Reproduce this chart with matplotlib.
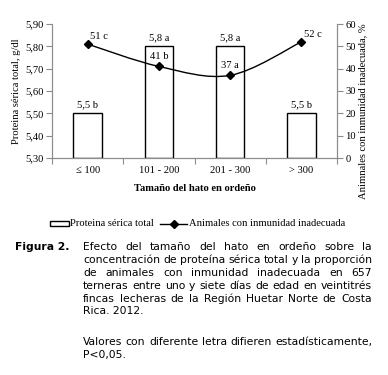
import matplotlib
matplotlib.use("Agg")
import matplotlib.pyplot as plt
from matplotlib.path import Path
from matplotlib.patches import PathPatch, Rectangle
from matplotlib.lines import Line2D
import numpy as np

categories = ["≤ 100", "101 - 200", "201 - 300", "> 300"]
protein = [5.5, 5.8, 5.8, 5.5]
protein_letters = ["b", "a", "a", "b"]
inadequate = [51, 41, 37, 52]
inadequate_letters = ["c", "b", "a", "c"]

caption_lines1 = ["Efecto del tamaño del hato en ordeño sobre la",
                  "concentración de proteína sérica total y la proporción",
                  "de animales con inmunidad inadecuada en 657",
                  "terneras entre uno y siete días de edad en veintitrés",
                  "fincas lecheras de la Región Huetar Norte de Costa",
                  "Rica. 2012."]
caption_lines2 = ["Valores con diferente letra difieren estadísticamente,",
                  "P<0,05."]

W, H = 388, 375
fig = plt.figure(figsize=(W / 100, H / 100), dpi=100)
serif = "Liberation Serif"
fs = 7.6
gray = "#8c8c8c"

ax = fig.add_axes([52 / W, 1 - 158 / H, (337 - 52) / W, (158 - 24) / H])
ax2 = ax.twinx()

x = np.arange(len(categories))
ax.bar(x, [p - 5.3 for p in protein], bottom=5.3, width=0.4, facecolor="white",
       edgecolor="black", linewidth=1.0, zorder=2)
ax.set_ylim(5.3, 5.9)
ax.set_xlim(-0.5, 3.5)
ax.set_yticks(np.round(np.arange(5.3, 5.91, 0.1), 2))
ax.set_yticklabels([f"{v:.2f}".replace(".", ",") for v in np.arange(5.3, 5.91, 0.1)],
                   family=serif, fontsize=fs)
ax.set_xticks(np.arange(-0.5, 3.6, 1.0))
ax.set_xticklabels([])
ax.set_xticks(x, minor=True)
ax.set_xticklabels(categories, minor=True, family=serif, fontsize=fs)
ax.tick_params(axis="x", which="minor", length=0, pad=6)
ax.tick_params(axis="x", which="major", length=4, direction="out", color=gray)
ax.tick_params(axis="y", length=4, direction="out", color=gray, pad=2)
for s in ["top"]:
    ax.spines[s].set_visible(False)
    ax2.spines[s].set_visible(False)
for s in ["left", "bottom", "right"]:
    ax.spines[s].set_color(gray)
    ax2.spines[s].set_color(gray)
ax.set_ylabel("Proteina sérica total, g/dl", family=serif, fontsize=fs, labelpad=3)
ax.set_xlabel("Tamaño del hato en ordeño", family=serif, fontsize=fs, fontweight="bold", labelpad=6)

for xi, p, l in zip(x, protein, protein_letters):
    ax.text(xi, p + 0.018, f"{p:.1f} {l}".replace(".", ","), ha="center", va="bottom",
            family=serif, fontsize=fs)

ax2.set_ylim(0, 60)
ax2.set_yticks(np.arange(0, 61, 10))
ax2.set_yticklabels([str(v) for v in range(0, 61, 10)], family=serif, fontsize=fs)
ax2.tick_params(axis="y", length=4, direction="out", color=gray, pad=2)
ax2.set_ylabel("Animnales con inmunidad inadecuada, %", family=serif, fontsize=fs,
               rotation=90, va="center", ha="center")
ax2.yaxis.set_label_coords((363 - 52) / (337 - 52), (158 - 111) / (158 - 24))

# Smoothed line (Catmull-Rom style Bezier, like spreadsheet smoothing)
pts = np.column_stack([x, inadequate]).astype(float)
ext = np.vstack([pts[0], pts, pts[-1]])
verts = [tuple(pts[0])]
codes = [Path.MOVETO]
for i in range(len(pts) - 1):
    p0, p1, p2, p3 = ext[i], ext[i + 1], ext[i + 2], ext[i + 3]
    c1 = p1 + (p2 - p0) / 6
    c2 = p2 - (p3 - p1) / 6
    verts += [tuple(c1), tuple(c2), tuple(p2)]
    codes += [Path.CURVE4] * 3
ax2.add_patch(PathPatch(Path(verts, codes), facecolor="none", edgecolor="black", lw=1.0, zorder=3))
ax2.plot(x, inadequate, linestyle="none", marker="D", markersize=4.5, color="black", zorder=4)

offsets = [(0.03, 1.5, "left"), (0, 2.5, "center"), (0, 2.5, "center"), (0.04, 1.5, "left")]
for xi, v, l, (dx, dy, ha) in zip(x, inadequate, inadequate_letters, offsets):
    ax2.text(xi + dx, v + dy, f"{v} {l}", ha=ha, va="bottom", family=serif, fontsize=fs)

# Legend (manual, in figure pixels)
def fx(px):
    return px / W

def fy(py):
    return 1 - py / H

fig.patches.append(Rectangle((fx(50), fy(226)), (69 - 50) / W, 5 / H, transform=fig.transFigure,
                             facecolor="white", edgecolor="black", lw=1.0))
fig.text(fx(70), fy(223.5), "Proteina sérica total", family=serif, fontsize=fs, va="center", ha="left")
fig.lines.append(Line2D([fx(160), fx(187)], [fy(223.5), fy(223.5)], transform=fig.transFigure,
                        color="black", lw=1.0))
fig.lines.append(Line2D([fx(173.5)], [fy(223.5)], transform=fig.transFigure, color="black",
                        marker="D", markersize=4))
fig.text(fx(189), fy(223.5), "Animales con inmunidad inadecuada", family=serif, fontsize=fs,
         va="center", ha="left")

# Caption
renderer = fig.canvas.get_renderer()
left_px, right_px = 83, 372
cap_family = "DejaVu Sans"

def text_width(s, size, **kw):
    t = fig.text(0, 0, s, family=cap_family, fontsize=size, **kw)
    bb = t.get_window_extent(renderer)
    t.remove()
    return bb.width

cap_fs = 10 * (right_px - left_px) / text_width(caption_lines1[1], 10)

fig.text(fx(15), fy(247), "Figura 2.", family=cap_family, fontsize=cap_fs, fontweight="bold",
         va="center", ha="left")

def draw_lines(lines, y0, step):
    for i, line in enumerate(lines):
        y = y0 + i * step
        words = line.split(" ")
        last = (i == len(lines) - 1)
        if last or len(words) == 1:
            fig.text(fx(left_px), fy(y), line, family=cap_family, fontsize=cap_fs,
                     va="center", ha="left")
            continue
        widths = [text_width(w, cap_fs) for w in words]
        gap = (right_px - left_px - sum(widths)) / (len(words) - 1)
        xpos = left_px
        for w, ww in zip(words, widths):
            fig.text(fx(xpos), fy(y), w, family=cap_family, fontsize=cap_fs, va="center", ha="left")
            xpos += ww + gap

draw_lines(caption_lines1, 247, 12.9)
draw_lines(caption_lines2, 342, 13.3)

fig.savefig("out.png", dpi=100)
